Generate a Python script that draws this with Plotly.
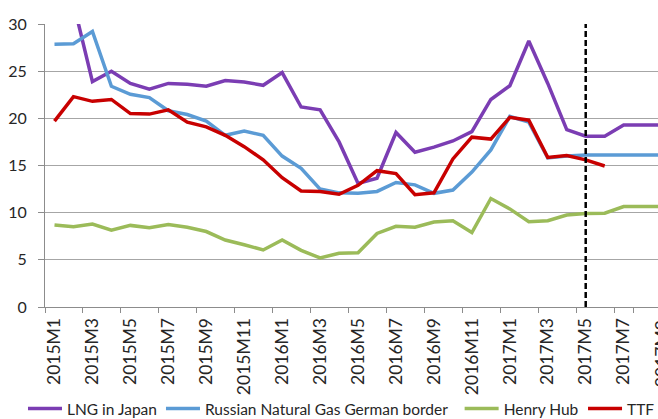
import plotly.graph_objects as go

months = []
for yr in (2015, 2016, 2017):
    for m in range(1, 13):
        months.append(f"{yr}M{m}")

tick_labels = [months[i] for i in range(0, 36, 2)]

lng_japan = [33.5, 32.2, 23.9, 25.0, 23.7, 23.1, 23.7, 23.6, 23.4, 24.0, 23.85, 23.5,
             24.85, 21.2, 20.9, 17.5, 13.1, 13.65, 18.5, 16.4, 16.95, 17.6, 18.6, 22.0,
             23.45, 28.2, 23.7, 18.8, 18.1, 18.1, 19.3, 19.3, 19.3, 19.3, 19.3, 19.3]
russian = [27.85, 27.9, 29.2, 23.4, 22.55, 22.2, 20.8, 20.4, 19.7, 18.2, 18.65, 18.2,
           16.0, 14.7, 12.5, 12.1, 12.05, 12.25, 13.2, 12.95, 12.05, 12.4, 14.3, 16.65,
           20.2, 19.6, 15.8, 16.0, 16.1, 16.1, 16.1, 16.1, 16.1, 16.1, 16.1, 16.1]
henry_hub = [8.7, 8.5, 8.8, 8.15, 8.65, 8.4, 8.75, 8.45, 8.0, 7.1, 6.6, 6.05,
             7.1, 6.0, 5.2, 5.7, 5.75, 7.8, 8.55, 8.45, 9.0, 9.15, 7.9, 11.5,
             10.4, 9.05, 9.15, 9.75, 9.9, 9.95, 10.65, 10.65, 10.65, 10.65, 10.65, 10.65]
ttf = [19.7, 22.3, 21.8, 22.0, 20.5, 20.45, 20.9, 19.6, 19.1, 18.2, 17.0, 15.6,
       13.7, 12.3, 12.25, 11.95, 12.9, 14.45, 14.15, 11.9, 12.1, 15.7, 18.0, 17.8,
       20.1, 19.8, 15.85, 16.05, 15.6, 14.95, None, None, None, None, None, None]

series_names = ["LNG in Japan", "Russian Natural Gas German border", "Henry Hub", "TTF"]
series_values = [lng_japan, russian, henry_hub, ttf]
series_colors = ["#7B3DB3", "#5B9BD5", "#9BBB59", "#C80000"]
legend_x = [-0.0359, 0.1892, 0.6764, 0.8777]

forecast_start = "2017M5"

FONT = "Lato, 'Liberation Sans', sans-serif"
TXT = "#262626"
x_range = [-0.5, 31.81]

fig = go.Figure()
legend_layout = {}
for k, (name, vals, color) in enumerate(zip(series_names, series_values, series_colors)):
    lg = "legend" if k == 0 else f"legend{k + 1}"
    fig.add_trace(go.Scatter(
        x=months, y=vals, name=name, mode="lines",
        line=dict(color=color, width=3.5),
        connectgaps=False, legend=lg,
    ))
    legend_layout[lg] = dict(
        orientation="h", x=legend_x[k], xanchor="left", y=-0.36, yanchor="middle",
        font=dict(family=FONT, size=15.5, color=TXT), itemwidth=34,
        bgcolor="rgba(0,0,0,0)", borderwidth=0,
    )

fig.add_shape(type="line", xref="x", yref="y",
              x0=forecast_start, x1=forecast_start, y0=0, y1=30,
              line=dict(color="black", width=2.5, dash="6px,3px"), layer="above")

# partially visible tick label at the clipped right edge
idx = months.index("2017M9")
fig.add_annotation(
    xref="paper", yref="paper",
    x=(idx - x_range[0]) / (x_range[1] - x_range[0]), y=-0.039,
    text="2017M9", textangle=-90, showarrow=False,
    xanchor="center", yanchor="top",
    font=dict(family=FONT, size=17.5, color=TXT),
)

fig.update_layout(
    width=658, height=419,
    margin=dict(l=45, r=0, t=24, b=112, autoexpand=False),
    paper_bgcolor="white", plot_bgcolor="white",
    font=dict(family=FONT, size=16, color=TXT),
    showlegend=True,
    xaxis=dict(
        type="category", range=x_range, automargin=False,
        tickmode="array", tickvals=tick_labels, ticktext=tick_labels,
        tickangle=-90, tickson="boundaries", ticklabelstandoff=3,
        ticks="outside", ticklen=5, tickcolor="#8C8C8C", tickwidth=1,
        showline=True, linecolor="#8C8C8C", linewidth=1,
        showgrid=False, tickfont=dict(family=FONT, size=17.5, color=TXT),
    ),
    yaxis=dict(
        range=[0, 30], dtick=5, tick0=0, automargin=False,
        ticks="outside", ticklen=6, tickcolor="#8C8C8C", tickwidth=1,
        ticklabelstandoff=8,
        showline=True, linecolor="#8C8C8C", linewidth=1,
        showgrid=True, gridcolor="#A6A6A6", gridwidth=1, zeroline=False,
        tickfont=dict(family=FONT, size=16, color=TXT),
    ),
    **legend_layout,
)

fig.write_html("out.html", config={"displayModeBar": False},
               post_script="document.body.style.margin='0px';")
